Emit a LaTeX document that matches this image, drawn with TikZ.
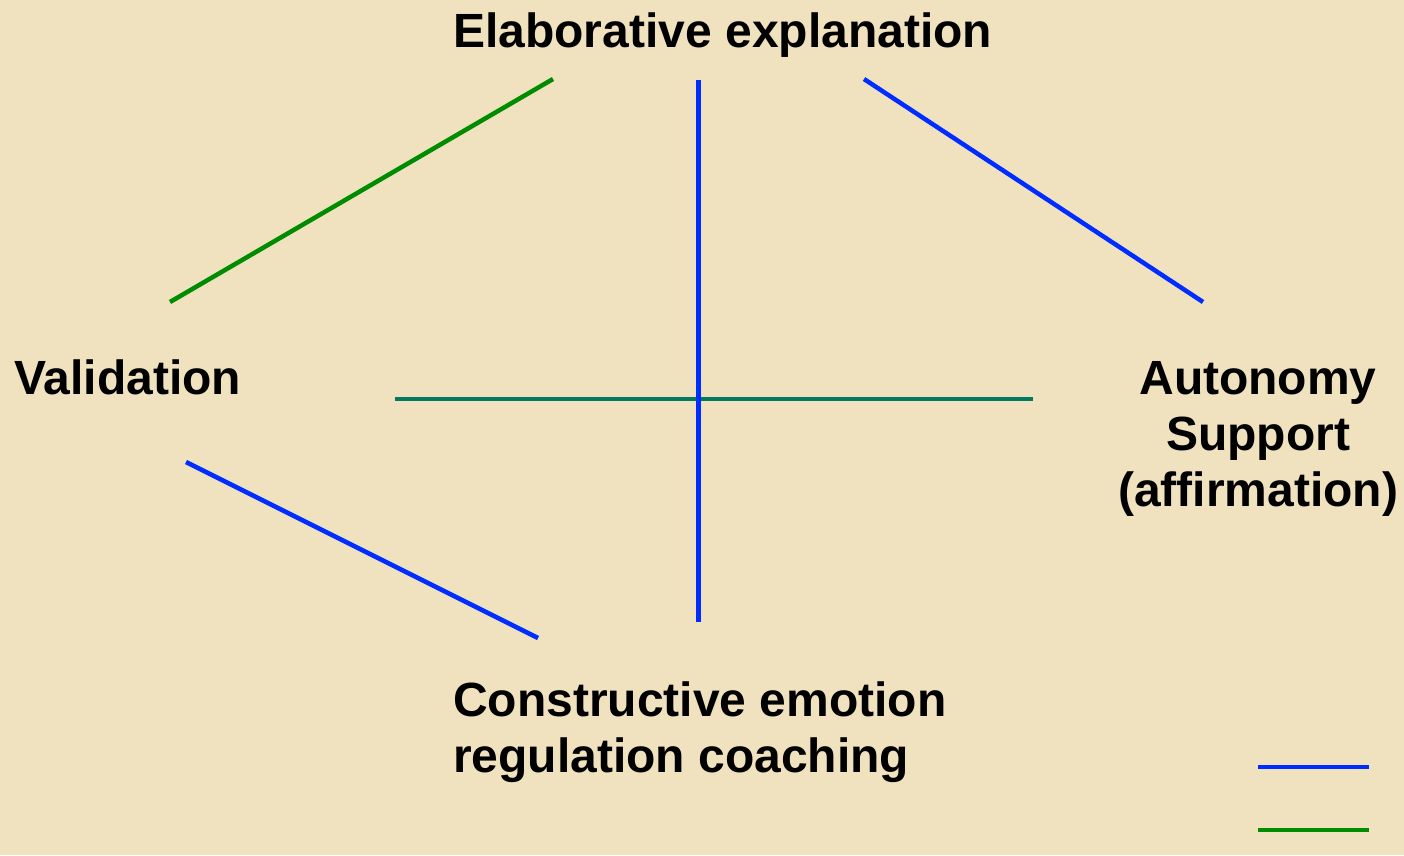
\documentclass[tikz,border=0pt]{standalone}
\usepackage{fontspec}
\setmainfont{Liberation Sans}
\usepackage{tikz}

\definecolor{paper}{RGB}{240,226,190}
\definecolor{bl}{RGB}{0,45,255}
\definecolor{gr}{RGB}{0,140,0}
\definecolor{tl}{RGB}{0,122,96}

\tikzset{lab/.style={inner sep=0pt, font=\fontsize{48}{56}\selectfont\bfseries}}

\begin{document}
\begin{tikzpicture}[x=1pt, y=-1pt, line width=4.5pt]
  \fill[paper] (0,0) rectangle (1404,855);
  \useasboundingbox (0,0) rectangle (1404,855);

  \node[lab, anchor=north west] (E) at (451,10) {Elaborative explanation};
  \node[lab, anchor=north west] (V) at (12,357) {Validation};
  \node[lab, anchor=north, align=center] (A) at (1258,359) {Autonomy\\Support\\(affirmation)};
  \node[lab, anchor=north west, align=left] (C) at (451,679) {Constructive emotion\\regulation coaching};

  
  \coordinate (V1) at (170,302);
  \coordinate (E1) at (553,79);
  \coordinate (E2) at (698,80);
  \coordinate (C2) at (698,622);
  \coordinate (E3) at (864,79);
  \coordinate (A1) at (1203,302);
  \coordinate (H1) at (395,399);
  \coordinate (H2) at (1033,399);
  \coordinate (V2) at (186,462);
  \coordinate (C1) at (538,638);

  
  \draw[gr] (V1) -- (E1);
  \draw[bl] (E3) -- (A1);
  \draw[tl] (H1) -- (H2);
  \draw[bl, line width=5pt] (E2) -- (C2);
  \draw[bl] (V2) -- (C1);

  
  \coordinate (L1) at (1258,767);
  \coordinate (L2) at (1369,767);
  \coordinate (L3) at (1258,830);
  \coordinate (L4) at (1369,830);
  \draw[bl] (L1) -- (L2);
  \draw[gr] (L3) -- (L4);
\end{tikzpicture}
\end{document}
